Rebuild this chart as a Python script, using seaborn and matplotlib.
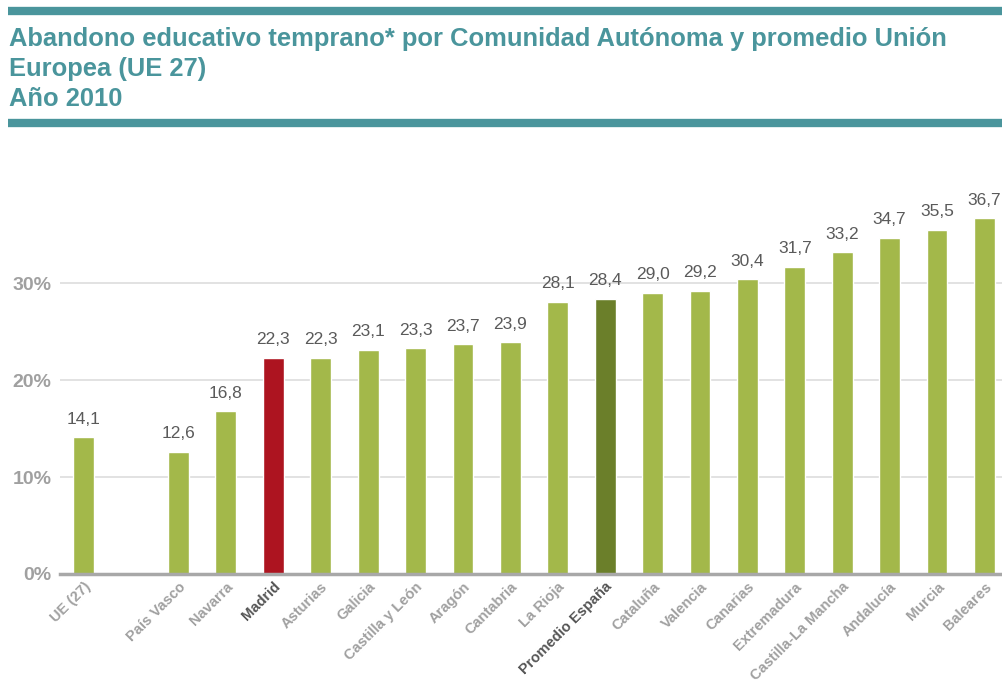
import matplotlib
matplotlib.use("Agg")
import matplotlib.pyplot as plt
import pandas as pd
import seaborn as sns

regiones = ["UE (27)", "", "País Vasco", "Navarra", "Madrid", "Asturias", "Galicia",
            "Castilla y León", "Aragón", "Cantabria", "La Rioja", "Promedio España",
            "Cataluña", "Valencia", "Canarias", "Extremadura", "Castilla-La Mancha",
            "Andalucía", "Murcia", "Baleares"]
valores = [14.1, None, 12.6, 16.8, 22.3, 22.3, 23.1, 23.3, 23.7, 23.9, 28.1, 28.4,
           29.0, 29.2, 30.4, 31.7, 33.2, 34.7, 35.5, 36.7]
yticks = [0, 10, 20, 30]

GREEN = "#a3b84a"
RED = "#ad1420"
OLIVE = "#6b7f2a"
TEAL = "#4a959c"

df = pd.DataFrame({"region": regiones, "valor": valores}).dropna()
colores = {r: GREEN for r in df["region"]}
colores["Madrid"] = RED
colores["Promedio España"] = OLIVE

sns.set_style("white")
plt.rcParams["font.family"] = ["Liberation Sans", "DejaVu Sans"]

fig = plt.figure(figsize=(10.02, 6.84), dpi=100)
ax = fig.add_axes([60 / 1002, 110 / 684, 942 / 1002, 407 / 684])

sns.barplot(data=df, x="region", y="valor", order=regiones, hue="region",
            palette=colores, legend=False, width=0.44, saturation=1, ax=ax)

for i, (r, v) in enumerate(zip(regiones, valores)):
    if v is None:
        continue
    ax.text(i, v + 1.1, f"{v:.1f}".replace(".", ","), ha="center", va="bottom",
            fontsize=12.5, color="#5a5a5a")

ax.set_xlim(-0.5, 19.37)
ax.set_ylim(0, 42)
ax.set_yticks(yticks)
ax.set_yticklabels([f"{t}%" for t in yticks], fontsize=14, fontweight="bold", color="#a0a0a0")
ax.yaxis.grid(True, color="#dddddd", linewidth=1.2)
ax.set_axisbelow(True)
ax.set_xticks(range(len(regiones)))
ax.set_xticklabels(regiones, rotation=45, ha="right", rotation_mode="anchor",
                   fontsize=10.5, fontweight="bold", color="#a0a0a0")
for lbl in ax.get_xticklabels():
    if lbl.get_text() in ("Madrid", "Promedio España"):
        lbl.set_color("#555555")
ax.tick_params(axis="y", length=0, pad=6)
ax.tick_params(axis="x", length=0, pad=4)
ax.set_xlabel("")
ax.set_ylabel("")
for s in ["top", "right", "left"]:
    ax.spines[s].set_visible(False)
ax.spines["bottom"].set_color("#a8a8a8")
ax.spines["bottom"].set_linewidth(2.5)

# bandas y titulo
for yb in (11, 123):
    fig.add_artist(plt.Line2D([8 / 1002, 1], [1 - yb / 684] * 2, color=TEAL,
                              linewidth=6, solid_capstyle="butt"))
titulo = ["Abandono educativo temprano* por Comunidad Autónoma y promedio Unión",
          "Europea (UE 27)", "Año 2010"]
for k, linea in enumerate(titulo):
    fig.text(9 / 1002, 1 - (39 + 30 * k) / 684, linea, ha="left", va="center",
             fontsize=18.4, fontweight="bold", color=TEAL)

fig.savefig("out.png", dpi=100)
